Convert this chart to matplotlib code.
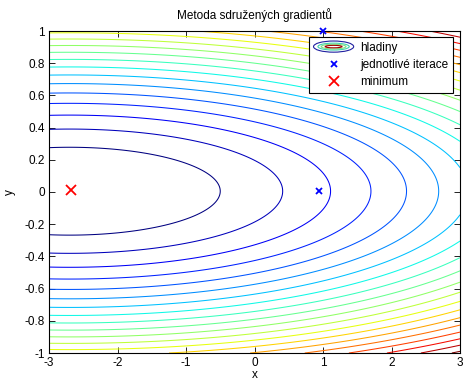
import numpy as np
import matplotlib
matplotlib.use('Agg')
import matplotlib.pyplot as plt
from matplotlib.patches import Ellipse
from matplotlib.legend_handler import HandlerBase
from matplotlib.lines import Line2D

plt.rcParams['font.family'] = ['Liberation Sans', 'DejaVu Sans']

# quadratic function whose level sets are drawn
center_x, center_y = -2.7, 0.005
coef_x, coef_y = 1.0, 65.0
levels = [4.84, 9.68, 14.52, 19.36, 24.2, 29.04, 33.88, 38.72, 43.56, 48.4,
          53.24, 58.08, 62.92, 67.76, 72.6, 77.44, 82.28, 87.12, 91.96, 96.8]

iter_x = [1.0, 0.94]
iter_y = [1.0, 0.006]
min_x = [-2.68]
min_y = [0.012]

x_ticks = [-3, -2, -1, 0, 1, 2, 3]
y_ticks = [-1, -0.8, -0.6, -0.4, -0.2, 0, 0.2, 0.4, 0.6, 0.8, 1]
y_tick_labels = ['-1', '-0.8', '-0.6', '-0.4', '-0.2', '0', '0.2', '0.4', '0.6', '0.8', '1']

xs = np.linspace(-3, 3, 401)
ys = np.linspace(-1, 1, 301)
X, Y = np.meshgrid(xs, ys)
Z = coef_x * (X - center_x) ** 2 + coef_y * (Y - center_y) ** 2


class ContourIcon:
    pass


class HandlerContour(HandlerBase):
    def create_artists(self, legend, orig_handle, xdescent, ydescent,
                       width, height, fontsize, trans):
        cx = width / 2 - xdescent
        cy = height / 2 - ydescent
        h = height * 1.35
        parts = [
            (1.0, 1.0, '#2020a0'),
            (0.78, 0.62, '#40d0b0'),
            (0.62, 0.42, '#80e080'),
            (0.42, 0.22, '#a00000'),
        ]
        arts = []
        for fw, fh, c in parts:
            e = Ellipse((cx, cy), width * fw, h * fh, fill=False, ec=c, lw=0.8,
                        transform=trans)
            arts.append(e)
        return arts


fig = plt.figure(figsize=(4.63, 3.81), dpi=100)
ax = fig.add_axes([49 / 463, 28 / 381, 411 / 463, 322 / 381])

ax.contour(X, Y, Z, levels=levels, cmap='jet', linewidths=0.75,
           vmin=levels[0], vmax=levels[-1])

ax.plot(iter_x, iter_y, 'x', color='blue', ms=4, mew=1.3, clip_on=False, zorder=5)
ax.plot(min_x, min_y, 'x', color='red', ms=7, mew=1.3, zorder=5)

ax.set_xlim(-3, 3)
ax.set_ylim(-1, 1)
ax.set_xticks(x_ticks)
ax.set_xticklabels([str(t) for t in x_ticks])
ax.set_yticks(y_ticks)
ax.set_yticklabels(y_tick_labels)
ax.tick_params(direction='in', top=True, right=True, length=4, width=0.6,
               labelsize=8.5, pad=3)
for s in ax.spines.values():
    s.set_linewidth(0.8)

ax.set_title('Metoda sdružených gradientů', fontsize=8.5, pad=9)
ax.set_xlabel('x', fontsize=8.5, labelpad=0)
ax.set_ylabel('y', fontsize=8.5, labelpad=6)

handles = [
    ContourIcon(),
    Line2D([], [], ls='none', marker='x', color='blue', ms=4, mew=1.3),
    Line2D([], [], ls='none', marker='x', color='red', ms=7, mew=1.3),
]
labels = ['hladiny', 'jednotlivé iterace', 'minimum']
leg = ax.legend(handles, labels, handler_map={ContourIcon: HandlerContour()},
                loc='upper right', bbox_to_anchor=(453 / 463, (381 - 37) / 381),
                bbox_transform=fig.transFigure, borderaxespad=0,
                fancybox=False, framealpha=1, edgecolor='black',
                fontsize=8.5, handlelength=3.4, handletextpad=0.55,
                labelspacing=0.45, borderpad=0.4)
leg.get_frame().set_linewidth(0.8)

fig.savefig('out.png', dpi=100)
